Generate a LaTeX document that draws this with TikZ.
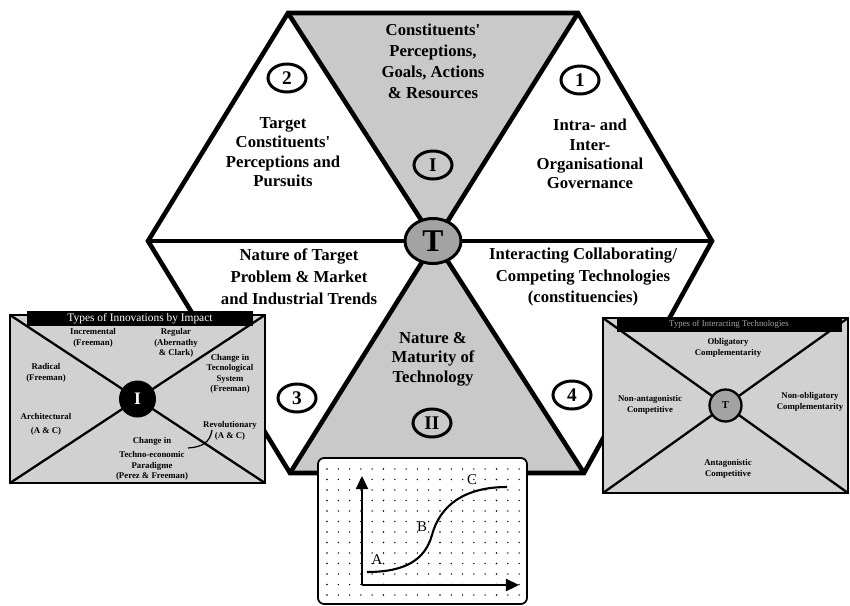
\documentclass[tikz,border=0pt]{standalone}
\usepackage{fontspec}
\setmainfont{Liberation Serif}
\usepackage{xcolor}
\usepackage{tikz}
\usetikzlibrary{arrows}
\usetikzlibrary{arrows.meta}
\usetikzlibrary{shapes.geometric}
\usetikzlibrary{calc}
\definecolor{hexshade}{gray}{0.79}
\definecolor{boxshade}{gray}{0.82}
\definecolor{hubshade}{gray}{0.64}

\begin{document}
\begin{tikzpicture}[x=0.02cm,y=-0.02cm,
    hexline/.style={line width=2.6pt},
    hextext/.style={font=\fontsize{9.5}{11}\selectfont\bfseries,align=center},
    numring/.style={draw,ellipse,line width=1.7pt,minimum width=0.76cm,minimum height=0.56cm,inner sep=0pt,font=\fontsize{11}{12}\selectfont\bfseries},
    boxtext/.style={font=\fontsize{5}{6}\selectfont\bfseries,align=center},
    boxline/.style={line width=1.3pt},
    boxedge/.style={line width=0.8pt}]

\useasboundingbox (0,0) rectangle (850,606);

%% the hexagon and its six triangles
\coordinate (TL) at (288,13);
\coordinate (TR) at (578,13);
\coordinate (R) at (712,241);
\coordinate (BR) at (584,473);
\coordinate (BL) at (290,473);
\coordinate (L) at (148,241);
\coordinate (O) at (433,241);

\fill [hexshade] (TL) -- (TR) -- (O) -- cycle;
\fill [hexshade] (BL) -- (BR) -- (O) -- cycle;
\draw [hexline] (TL) -- (TR) -- (R) -- (BR) -- (BL) -- (L) -- cycle;
\draw [hexline] (TL) -- (BR);
\draw [hexline] (TR) -- (BL);
\draw [hexline] (L) -- (R);

\node [draw,ellipse,fill=hubshade,line width=1.7pt,minimum width=1.12cm,minimum height=0.9cm,inner sep=0pt,font=\fontsize{18}{18}\selectfont\bfseries] (hub) at (O) {T};

\node [numring] (ringI) at (433,165) {I};
\node [numring] (ringII) at (432,423) {II};
\node [numring] (ring1) at (580,80) {1};
\node [numring] (ring2) at (287,78) {2};
\node [numring] (ring3) at (297,398) {3};
\node [numring] (ring4) at (572,395) {4};

\node [hextext,font=\fontsize{9.5}{12}\selectfont\bfseries] (goals) at (433,61) {Constituents\textquotesingle\\Perceptions,\\Goals, Actions\\\& Resources};
\node [hextext] (target) at (283,152) {Target\\Constituents\textquotesingle\\Perceptions and\\Pursuits};
\node [hextext] (govern) at (590,154) {Intra- and\\Inter-\\Organisational\\Governance};
\node [hextext,font=\fontsize{9.5}{12.5}\selectfont\bfseries] (problem) at (299,277) {Nature of Target\\Problem \& Market\\and Industrial Trends};
\node [hextext,font=\fontsize{9.5}{12.5}\selectfont\bfseries] (interact) at (583,277) {Interacting Collaborating/\\Competing Technologies\\(constituencies)};
\node [hextext] (maturity) at (433,359) {Nature \&\\Maturity of\\Technology};

%% types of innovations
\coordinate (lbNW) at (10,315);
\coordinate (lbNE) at (265,315);
\coordinate (lbSW) at (10,483);
\coordinate (lbSE) at (265,483);
\fill [boxshade] (lbNW) rectangle (lbSE);
\draw [boxedge] (lbNW) rectangle (lbSE);
\draw [boxline] (lbNW) -- (lbSE);
\draw [boxline] (lbSW) -- (lbNE);
\fill [black] (27,311) rectangle (253,326);
\node [text=white,font=\fontsize{6.5}{7}\selectfont] (innotitle) at (140,318.5) {Types of Innovations by Impact};
\node [circle,fill=black,minimum size=0.74cm,inner sep=0pt,text=white,font=\fontsize{10}{10}\selectfont\bfseries] (innohub) at (137.5,399) {I};

\node [boxtext] (increm) at (93,338) {Incremental\\(Freeman)};
\node [boxtext] (regular) at (176,343) {Regular\\(Abernathy\\\& Clark)};
\node [boxtext] (radical) at (46,373) {Radical\\(Freeman)};
\node [boxtext] (techsys) at (230,374) {Change in\\Tecnological\\System\\(Freeman)};
\node [boxtext] (archit) at (46,424) {Architectural\\[2pt](A \& C)};
\node [boxtext] (revol) at (230,431) {Revolutionary\\(A \& C)};
\node [boxtext] (paradigm) at (152,459) {Change in\\[2pt]Techno-economic\\Paradigme\\(Perez \& Freeman)};
\draw [line width=0.7pt] (188,448) .. controls (203,447) and (210,442) .. (212,430);

%% types of interacting technologies
\coordinate (rbNW) at (603,318);
\coordinate (rbNE) at (848,318);
\coordinate (rbSW) at (603,493);
\coordinate (rbSE) at (848,493);
\fill [boxshade] (rbNW) rectangle (rbSE);
\draw [boxedge] (rbNW) rectangle (rbSE);
\draw [boxline] (rbNW) -- (rbSE);
\draw [boxline] (rbSW) -- (rbNE);
\fill [black] (617,317) rectangle (842,332);
\node [text=gray!70,font=\fontsize{5}{6}\selectfont] (techtitle) at (729,324.5) {Types of Interacting Technologies};
\node [circle,draw,fill=hubshade,boxline,minimum size=0.64cm,inner sep=0pt,font=\fontsize{6}{6}\selectfont\bfseries] (techhub) at (725.5,405.5) {T};

\node [boxtext] (oblig) at (728,348) {Obligatory\\Complementarity};
\node [boxtext] (nonanta) at (650,405) {Non-antagonistic\\Competitive};
\node [boxtext] (nonoblig) at (810,402) {Non-obligatory\\Complementarity};
\node [boxtext] (antag) at (728,469) {Antagonistic\\Competitive};

%% maturity curve
\draw [fill=white,line width=1pt,rounded corners=3.5pt] (318,458) rectangle (527,604);
\foreach \x in {0,...,17}
  \foreach \y in {0,...,12}
    \fill ({327+\x*11.3},{469+\y*10.5}) circle (0.45pt);
\coordinate (origin) at (362,585);
\coordinate (ytop) at (362,476);
\coordinate (xend) at (519,585);
\draw [line width=1pt,-{Triangle[length=7.5pt,width=7pt]}] (origin) -- (ytop);
\draw [line width=1pt,-{Triangle[length=7.5pt,width=7pt]}] (origin) -- (xend);
\draw [line width=1.2pt] (367,572) .. controls (405,572) and (425,560) .. (432,535) .. controls (440,505) and (465,487) .. (507,487);
\node [font=\fontsize{8.5}{8.5}\selectfont] (ptA) at (377,560) {A};
\node [font=\fontsize{8.5}{8.5}\selectfont] (ptB) at (422,527) {B};
\node [font=\fontsize{8.5}{8.5}\selectfont] (ptC) at (472,480) {C};
\end{tikzpicture}
\end{document}
